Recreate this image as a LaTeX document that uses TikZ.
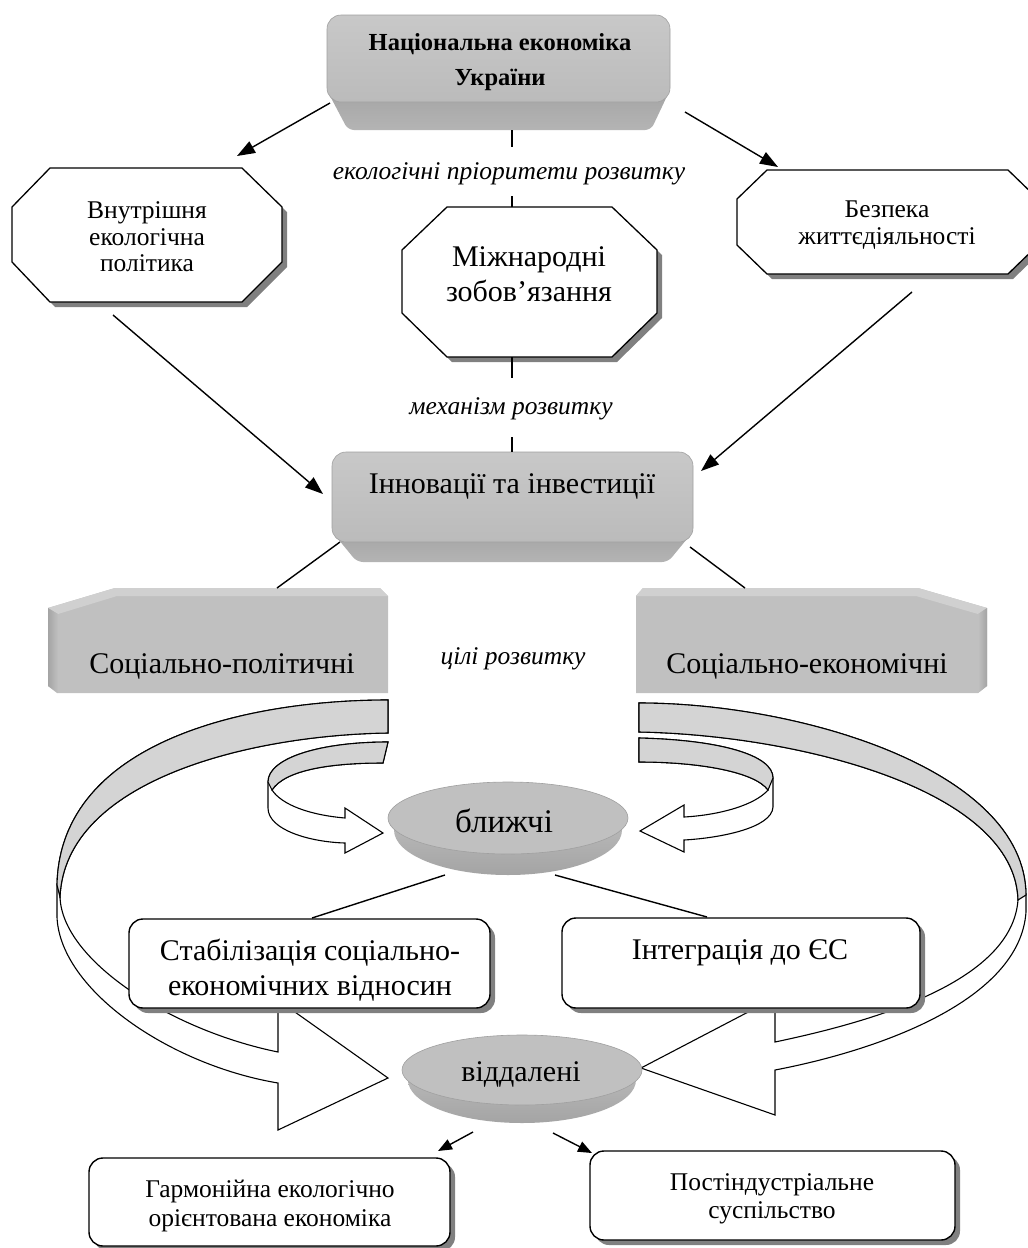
\documentclass[tikz,border=0pt]{standalone}
\usepackage{fontspec}
\setmainfont{Liberation Serif}
\usetikzlibrary{arrows.meta}
\definecolor{face}{HTML}{C0C0C0}
\definecolor{facetop}{HTML}{C8C8C8}
\definecolor{facebot}{HTML}{BBBBBB}
\definecolor{bevtop}{HTML}{A6A6A6}
\definecolor{bevbot}{HTML}{B4B4B4}
\definecolor{rib}{HTML}{D4D4D4}
\definecolor{shd}{HTML}{808080}
\definecolor{rim}{HTML}{A0A0A0}
\definecolor{strip}{HTML}{D0D0D0}
\definecolor{side}{HTML}{A4A4A4}
\begin{document}
\begin{tikzpicture}[x=1pt,y=-1pt,
  octo/.style={draw=black, line width=1.3pt, fill=white, line join=miter},
  shadowfill/.style={fill=shd},
  conn/.style={line width=1.4pt},
  arr/.style={conn, -{Triangle[length=18pt,width=13pt]}},
  sarr/.style={conn, -{Triangle[length=14pt,width=11pt]}},
  rbox/.style={draw=black, line width=1.4pt, fill=white, rounded corners=14pt},
  rshadow/.style={fill=shd, rounded corners=14pt},
  ribbon/.style={draw=black, line width=1.1pt, fill=white, line join=miter},
  ribgray/.style={draw=black, line width=1.1pt, fill=rib, line join=miter},
  txtL/.style={font=\fontsize{30}{35}\selectfont, align=center, inner sep=0pt},
  txtD/.style={font=\fontsize{33}{35}\selectfont, align=center, inner sep=0pt},
  txtM/.style={font=\fontsize{25.5}{26.5}\selectfont, align=center, inner sep=0pt},
  txtS/.style={font=\fontsize{25.5}{28.5}\selectfont, align=center, inner sep=0pt},
  txtB/.style={font=\fontsize{24.5}{35}\selectfont\bfseries, align=center, inner sep=0pt},
  txtI/.style={font=\fontsize{25.5}{30}\selectfont\itshape, inner sep=0pt}
]
\useasboundingbox (0,0) rectangle (1028,1248);
\fill[white] (0,0) rectangle (1028,1248);

% ---------- ribbons (curved 3D arrows) ----------
% big left
\filldraw[ribbon] (388,700) .. controls (250,700) and (60,740) .. (57,885) -- (57,917)
  .. controls (60,990) and (170,1065) .. (278,1083) -- (278,1130) -- (388,1078) -- (278,1000) -- (278,1052)
  .. controls (170,1030) and (62,960) .. (60,897) .. controls (65,780) and (250,735) .. (388,733) -- cycle;
\filldraw[ribgray] (388,700) .. controls (250,700) and (60,740) .. (57,885) -- (60,897)
  .. controls (65,780) and (250,735) .. (388,733) -- cycle;
% big right
\filldraw[ribbon] (639,703) .. controls (800,703) and (1025,770) .. (1026,895) -- (1026,912)
  .. controls (1020,1000) and (880,1050) .. (775,1070) -- (775,1115) -- (641,1068) -- (775,998) -- (775,1042)
  .. controls (880,1020) and (1012,980) .. (1018,900) .. controls (1015,790) and (800,735) .. (639,732) -- cycle;
\filldraw[ribgray] (639,703) .. controls (800,703) and (1025,770) .. (1026,895) -- (1018,900)
  .. controls (1015,790) and (800,735) .. (639,732) -- cycle;
% small left
\filldraw[ribbon] (388,742) .. controls (320,742) and (268,758) .. (268,782) -- (268,808)
  .. controls (268,830) and (310,842) .. (345,843) -- (345,853) -- (383,833) -- (345,808) -- (345,818)
  .. controls (310,815) and (282,805) .. (272,790) .. controls (285,770) and (330,763) .. (383,763) -- cycle;
\filldraw[ribgray] (388,742) .. controls (320,742) and (268,758) .. (268,782) -- (272,790)
  .. controls (285,770) and (330,763) .. (383,763) -- cycle;
% small right
\filldraw[ribbon] (639,738) .. controls (720,740) and (773,755) .. (773,778) -- (773,807)
  .. controls (772,828) and (720,838) .. (684,840) -- (684,852) -- (640,831) -- (684,805) -- (684,817)
  .. controls (720,815) and (755,805) .. (768,790) .. controls (755,772) and (700,762) .. (639,762) -- cycle;
\filldraw[ribgray] (639,738) .. controls (720,740) and (773,755) .. (773,778) -- (768,790)
  .. controls (755,772) and (700,762) .. (639,762) -- cycle;

% ---------- top box ----------
\shade[top color=bevtop, bottom color=bevbot, rounded corners=6pt] (329,94) -- (668,94) -- (651,130) -- (348,130) -- cycle;
\shadedraw[top color=facetop, bottom color=facebot, draw=rim, line width=0.6pt, rounded corners=14pt] (327,15) rectangle (670,102);

% ---------- octagons ----------
\fill[shadowfill, shift={(5,5)}] (50,168) -- (242,168) -- (282,207) -- (282,262) -- (242,302) -- (50,302) -- (12,262) -- (12,207) -- cycle;
\filldraw[octo] (50,168) -- (242,168) -- (282,207) -- (282,262) -- (242,302) -- (50,302) -- (12,262) -- (12,207) -- cycle;

\fill[shadowfill, shift={(5,5)}] (447,207) -- (612,207) -- (657,250) -- (657,313) -- (612,357) -- (447,357) -- (402,313) -- (402,250) -- cycle;
\filldraw[octo] (447,207) -- (612,207) -- (657,250) -- (657,313) -- (612,357) -- (447,357) -- (402,313) -- (402,250) -- cycle;

\begin{scope}
\clip (0,0) rectangle (1028,1248);
\fill[shadowfill, shift={(5,5)}] (767,170) -- (1008,170) -- (1038,199) -- (1038,245) -- (1008,274) -- (767,274) -- (737,245) -- (737,199) -- cycle;
\filldraw[octo] (767,170) -- (1008,170) -- (1038,199) -- (1038,245) -- (1008,274) -- (767,274) -- (737,245) -- (737,199) -- cycle;
\end{scope}

% ---------- innovations box ----------
\shade[top color=bevtop, bottom color=bevbot, rounded corners=6pt] (334,534) -- (691,534) -- (668,562) -- (357,562) -- cycle;
\shadedraw[top color=facetop, bottom color=facebot, draw=rim, line width=0.6pt, rounded corners=14pt] (332,452) rectangle (693,542);

% ---------- goal boxes ----------
\fill[face] (48,608) -- (115,588) -- (380,588) -- (388,596) -- (388,693) -- (57,693) -- (48,686) -- cycle;
\fill[strip] (48,608) -- (115,588) -- (380,588) -- (388,596) -- (117,596) -- (58,614) -- cycle;
\shade[left color=side, right color=face] (48,608) -- (58,614) -- (58,693) -- (48,686) -- cycle;

\fill[face] (636,596) -- (643,588) -- (918,588) -- (987,608) -- (987,686) -- (978,693) -- (636,693) -- cycle;
\fill[strip] (636,596) -- (643,588) -- (918,588) -- (987,608) -- (978,614) -- (916,596) -- cycle;
\shade[left color=face, right color=side] (978,614) -- (987,608) -- (987,686) -- (978,693) -- cycle;

% ---------- discs ----------
\shade[top color=facetop, bottom color=side] (508,830) ellipse [x radius=114, y radius=45];
\filldraw[fill=face, draw=rim, line width=0.6pt] (508,818) ellipse [x radius=120, y radius=36];
\shade[top color=facetop, bottom color=side] (522,1080) ellipse [x radius=114, y radius=43];
\filldraw[fill=face, draw=rim, line width=0.6pt] (522,1070) ellipse [x radius=120, y radius=35];

% ---------- rounded boxes ----------
\fill[rshadow] (134,924) rectangle (495,1013);
\filldraw[rbox] (129,919) rectangle (490,1008);
\fill[rshadow] (567,923) rectangle (925,1013);
\filldraw[rbox] (562,918) rectangle (920,1008);
\fill[rshadow] (94,1163) rectangle (455,1251);
\filldraw[rbox] (89,1158) rectangle (450,1246);
\fill[rshadow] (595,1156) rectangle (960,1245);
\filldraw[rbox] (590,1151) rectangle (955,1240);

% ---------- texts ----------
\node[txtB] (nat) at (500,62) {Національна економіка\\України};
\node[txtI] (pri) at (509,174) {екологічні пріоритети розвитку};
\node[txtM] (vnut) at (147,237) {Внутрішня\\екологічна\\політика};
\node[txtL] (mizh) at (529,274) {Міжнародні\\зобов’язання};
\node[txtM] (bezp) at (887,225) {Безпека\\життєдіяльності};
\node[txtI] (mech) at (511,409) {механізм розвитку};
\node[txtL] (inn) at (512,486) {Інновації та інвестиції};
\node[txtL] (socp) at (222,666) {Соціально-політичні};
\node[txtI] (goal) at (513,659) {цілі розвитку};
\node[txtL] (soce) at (807,666) {Соціально-економічні};
\node[txtD] (near) at (504,821) {ближчі};
\node[txtL] (stab) at (310,970) {Стабілізація соціально-\\економічних відносин};
\node[txtL] (integ) at (740,953) {Інтеграція до ЄС};
\node[txtL] (far) at (521,1074) {віддалені};
\node[txtS] (harm) at (270,1206) {Гармонійна екологічно\\орієнтована економіка};
\node[txtS] (post) at (772,1199) {Постіндустріальне\\суспільство};

% ---------- connector end points ----------
\coordinate (natL) at (330,103);
\coordinate (vnutT) at (237,156);
\coordinate (natR) at (685,112);
\coordinate (bezpT) at (778,167);
\coordinate (vnutB) at (113,315);
\coordinate (innL) at (323,494);
\coordinate (bezpB) at (912,292);
\coordinate (innR) at (701,471);
\coordinate (innBL) at (340,542);
\coordinate (socpT) at (277,588);
\coordinate (innBR) at (690,547);
\coordinate (soceT) at (745,588);
\coordinate (natB) at (512,130);
\coordinate (priT) at (512,147);
\coordinate (priB) at (512,196);
\coordinate (mizhT) at (512,207);
\coordinate (mizhB) at (512,357);
\coordinate (mechT) at (512,378);
\coordinate (mechB) at (512,437);
\coordinate (innT) at (512,452);
\coordinate (nearBL) at (445,875);
\coordinate (stabT) at (312,918);
\coordinate (nearBR) at (555,875);
\coordinate (integT) at (707,917);
\coordinate (farBL) at (473,1132);
\coordinate (harmT) at (438,1151);
\coordinate (farBR) at (553,1133);
\coordinate (postT) at (592,1153);

% ---------- connectors ----------
\draw[arr] (natL) -- (vnutT);
\draw[arr] (natR) -- (bezpT);
\draw[arr] (vnutB) -- (innL);
\draw[arr] (bezpB) -- (innR);
\draw[conn] (innBL) -- (socpT);
\draw[conn] (innBR) -- (soceT);
\draw[conn] (natB) -- (priT);
\draw[conn] (priB) -- (mizhT);
\draw[conn] (mizhB) -- (mechT);
\draw[conn] (mechB) -- (innT);
\draw[conn] (nearBL) -- (stabT);
\draw[conn] (nearBR) -- (integT);
\draw[sarr] (farBL) -- (harmT);
\draw[sarr] (farBR) -- (postT);
\end{tikzpicture}
\end{document}
